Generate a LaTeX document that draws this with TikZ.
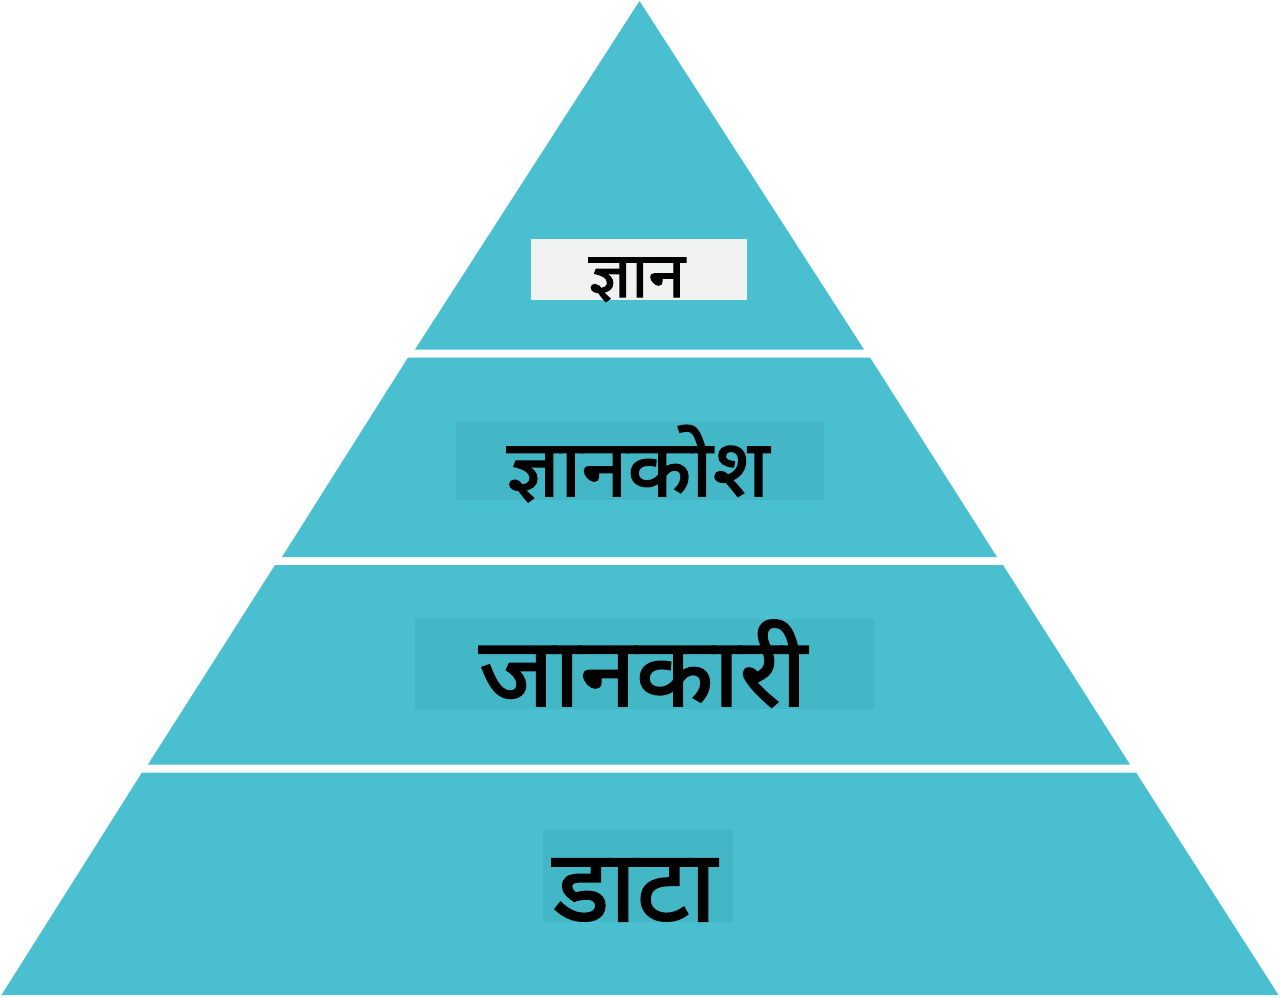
\documentclass[tikz,border=0pt]{standalone}
\usepackage{fontspec}
\newfontfamily\deva[Script=Devanagari,FakeBold=2,FakeStretch=1.05]{Noto Sans}
\definecolor{teal1}{HTML}{49BFCF}
\definecolor{tealbox}{HTML}{44B7C7}
\definecolor{graybox}{HTML}{F0F2F1}
\begin{document}
\begin{tikzpicture}[x=1pt,y=-1pt,
  layer/.style={fill=teal1},
  lbl/.style={inner sep=0pt, anchor=base, text=black}]
\useasboundingbox (0,0) rectangle (1280,998);
% layers
\fill[layer] (639.5,1) -- (864,349.5) -- (415,349.5) -- cycle;
\fill[layer] (408,357.5) -- (870,357.5) -- (997,557) -- (282,557) -- cycle;
\fill[layer] (275,565) -- (1003,565) -- (1130,764.5) -- (148,764.5) -- cycle;
\fill[layer] (142,772.5) -- (1136,772.5) -- (1278.5,995) -- (1.5,995) -- cycle;
% label backgrounds
\fill[graybox] (531,239) rectangle (747,300);
\fill[tealbox] (456,422) rectangle (824,500);
\fill[tealbox] (415,619) rectangle (875,709);
\fill[tealbox] (543,830) rectangle (733,922);
% labels
\node[lbl, font=\deva\fontsize{63}{63}\selectfont] (t1) at (637,297) {ज्ञान};
\node[lbl, font=\deva\fontsize{79}{79}\selectfont] (t2) at (638,496) {ज्ञानकोश};
\node[lbl, font=\deva\fontsize{96}{96}\selectfont] (t3) at (643,706) {जानकारी};
\node[lbl, font=\deva\fontsize{100}{100}\selectfont] (t4) at (635,921) {डाटा};
\end{tikzpicture}
\end{document}
